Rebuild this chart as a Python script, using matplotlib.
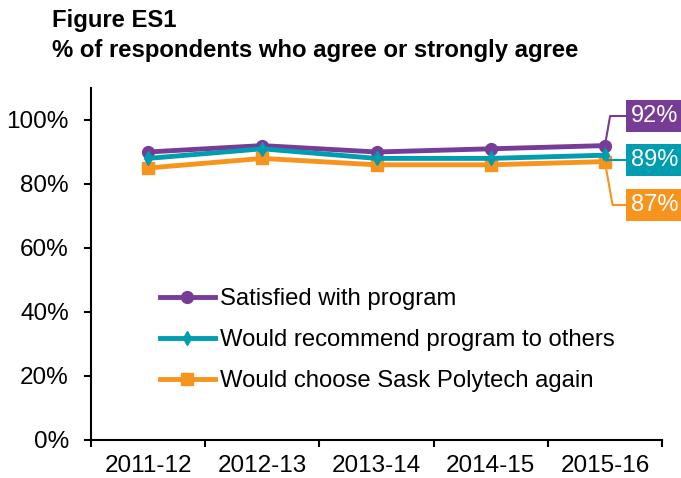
import matplotlib
matplotlib.use("Agg")
import matplotlib.pyplot as plt
from matplotlib.ticker import FuncFormatter, FixedLocator

plt.rcParams['font.family'] = ['Liberation Sans', 'DejaVu Sans']

years = ["2011-12", "2012-13", "2013-14", "2014-15", "2015-16"]
satisfied = [90, 92, 90, 91, 92]
recommend = [88, 91, 88, 88, 89]
choose_again = [85, 88, 86, 86, 87]
series_names = ["Satisfied with program", "Would recommend program to others",
                "Would choose Sask Polytech again"]

purple = "#763C96"
teal = "#009DB0"
orange = "#F7941D"

fig = plt.figure(figsize=(6.81, 4.78), dpi=100)
ax = fig.add_axes([91/681, 1-440/478, (662-91)/681, (440-88)/478])

x = list(range(len(years)))
ax.plot(x, satisfied, color=purple, lw=3.5, marker='o', ms=8.5, label=series_names[0], zorder=3)
ax.plot(x, recommend, color=teal, lw=3.5, marker='d', ms=7, label=series_names[1], zorder=4)
ax.plot(x, choose_again, color=orange, lw=3.5, marker='s', ms=8.5, label=series_names[2], zorder=2)

ax.set_xlim(-0.5, len(years)-0.5)
ax.set_ylim(0, 110)
ax.set_yticks(range(0, 101, 20))
ax.yaxis.set_major_formatter(FuncFormatter(lambda v, p: f"{int(v)}%"))
ax.set_xticks(x)
ax.set_xticklabels(years)
ax.xaxis.set_minor_locator(FixedLocator([i - 0.5 for i in range(len(years)+1)]))
ax.tick_params(axis='x', which='major', length=0, labelsize=17.5, pad=11)
ax.tick_params(axis='x', which='minor', length=5, width=1.5, direction='out')
ax.tick_params(axis='y', length=5, width=1.5, direction='out', labelsize=17.5, pad=11)
for s in ['top', 'right']:
    ax.spines[s].set_visible(False)
for s in ['left', 'bottom']:
    ax.spines[s].set_linewidth(1.5)

# end labels
labels = [(satisfied, purple, 362, 'angle,angleA=0,angleB=80'),
          (recommend, teal, 318, 'angle,angleA=0,angleB=90'),
          (choose_again, orange, 273, 'angle,angleA=0,angleB=100')]
for vals, col, ypix, cs in labels:
    ax.annotate(f"{vals[-1]}%", xy=(x[-1], vals[-1]), xycoords='data',
                xytext=(631, ypix), textcoords='figure pixels',
                ha='left', va='center', color='white', fontsize=17,
                bbox=dict(boxstyle='square,pad=0.22', fc=col, ec='none'),
                arrowprops=dict(arrowstyle='-', color=col, lw=1.5,
                                connectionstyle=cs, relpos=(0, 0.5),
                                shrinkA=0, shrinkB=0),
                annotation_clip=False, zorder=5)

fig.legend(loc='upper left', bbox_to_anchor=(160/681, 1-288/478), frameon=False,
           fontsize=17.2, handlelength=2.3, handletextpad=0.2, labelspacing=0.8,
           borderpad=0, borderaxespad=0)

fig.text(52/681, 1-21/478, "Figure ES1", fontsize=17.2, fontweight='bold', va='center')
fig.text(52/681, 1-51/478, "% of respondents who agree or strongly agree", fontsize=17.2,
         fontweight='bold', va='center')

fig.savefig("out.png", dpi=100)
